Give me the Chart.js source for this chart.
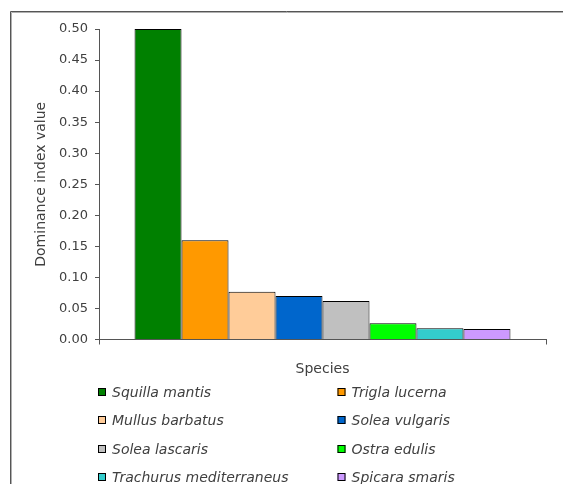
<!DOCTYPE html>
<html>
<head>
<meta charset="utf-8">
<script src="https://cdn.jsdelivr.net/npm/chart.js@4/dist/chart.umd.min.js"></script>
<style>
  html, body { margin: 0; padding: 0; background: #fff; }
  #wrap { width: 563px; height: 484px; position: relative; }
</style>
</head>
<body>
<div id="wrap"><canvas id="c" width="563" height="484"></canvas></div>
<script>
// Dominance index per species
const species = [
  'Squilla mantis', 'Trigla lucerna', 'Mullus barbatus', 'Solea vulgaris',
  'Solea lascaris', 'Ostra edulis', 'Trachurus mediterraneus', 'Spicara smaris'
];
const dominance = [0.50, 0.16, 0.077, 0.070, 0.062, 0.026, 0.018, 0.017];
const barColors = ['#008000', '#FF9900', '#FFCC99', '#0066CC', '#C0C0C0', '#00FF00', '#33CCCC', '#CC99FF'];
const yTicks = { min: 0, max: 0.5, step: 0.05 };

const FONT = '"DejaVu Sans", "Liberation Sans", sans-serif';
const TEXT = '#404040';

// Thin frame around the plot (top and left edges)
const framePlugin = {
  id: 'frame',
  beforeDraw(chart) {
    const ctx = chart.ctx;
    ctx.save();
    ctx.lineWidth = 1;
    ctx.strokeStyle = '#b0b0b0';
    ctx.beginPath();
    ctx.moveTo(11.5, chart.height);
    ctx.lineTo(11.5, 12.5);
    ctx.lineTo(chart.width, 12.5);
    ctx.stroke();
    ctx.strokeStyle = '#555';
    ctx.beginPath();
    ctx.moveTo(10.5, chart.height);
    ctx.lineTo(10.5, 11.5);
    ctx.lineTo(chart.width, 11.5);
    ctx.stroke();
    ctx.restore();
  }
};

// Two-column legend under the axis title
const twoColLegend = {
  id: 'twoColLegend',
  afterDraw(chart) {
    const ctx = chart.ctx;
    const area = chart.chartArea;
    const colX = [area.left - 1, area.left + 238.5];
    const rowY0 = area.bottom + 52.5;
    const rowGap = 28.3;
    ctx.save();
    ctx.font = 'italic 14px ' + FONT;
    ctx.textBaseline = 'middle';
    ctx.textAlign = 'left';
    chart.data.datasets.forEach((ds, i) => {
      const x = colX[i % 2];
      const y = Math.round(rowY0 + Math.floor(i / 2) * rowGap);
      ctx.fillStyle = ds.backgroundColor;
      ctx.fillRect(x, y - 4, 8, 8);
      ctx.strokeStyle = '#000';
      ctx.lineWidth = 1;
      ctx.strokeRect(x + 0.5, y - 3.5, 7, 7);
      ctx.fillStyle = TEXT;
      ctx.fillText(ds.label, x + 14, y + 1);
    });
    ctx.restore();
  }
};

const datasets = species.map((name, i) => ({
  label: name,
  data: [dominance[i]],
  backgroundColor: barColors[i],
  borderColor: '#000',
  borderWidth: 1,
  inflateAmount: 0,
  barPercentage: 1,
  categoryPercentage: 0.841
}));

new Chart(document.getElementById('c'), {
  type: 'bar',
  data: { labels: ['Species'], datasets },
  options: {
    responsive: false,
    animation: false,
    layout: { padding: { left: 10, top: 29, right: 17, bottom: 99.5 } },
    plugins: {
      legend: { display: false },
      tooltip: { enabled: false }
    },
    scales: {
      x: {
        grid: { display: true, drawOnChartArea: false, drawTicks: true, tickLength: 5, color: '#555' },
        border: { color: '#555' },
        ticks: { display: false },
        title: {
          display: true, text: 'Species', color: TEXT,
          font: { family: FONT, size: 14 },
          padding: { top: 0, bottom: 7 }
        },
        afterFit(scale) { scale.height = 45; }
      },
      y: {
        min: yTicks.min,
        max: yTicks.max,
        grid: { display: true, drawOnChartArea: false, drawTicks: true, tickLength: 4, color: '#555' },
        border: { color: '#555' },
        ticks: {
          stepSize: yTicks.step,
          padding: 7,
          color: TEXT,
          font: { family: FONT, size: 13 },
          callback: v => Number(v).toFixed(2)
        },
        title: {
          display: true, text: 'Dominance index value', color: TEXT,
          font: { family: FONT, size: 14 },
          padding: { top: 23, bottom: 0 }
        },
        afterFit(scale) { scale.width = 89; }
      }
    }
  },
  plugins: [framePlugin, twoColLegend]
});
</script>
</body>
</html>
